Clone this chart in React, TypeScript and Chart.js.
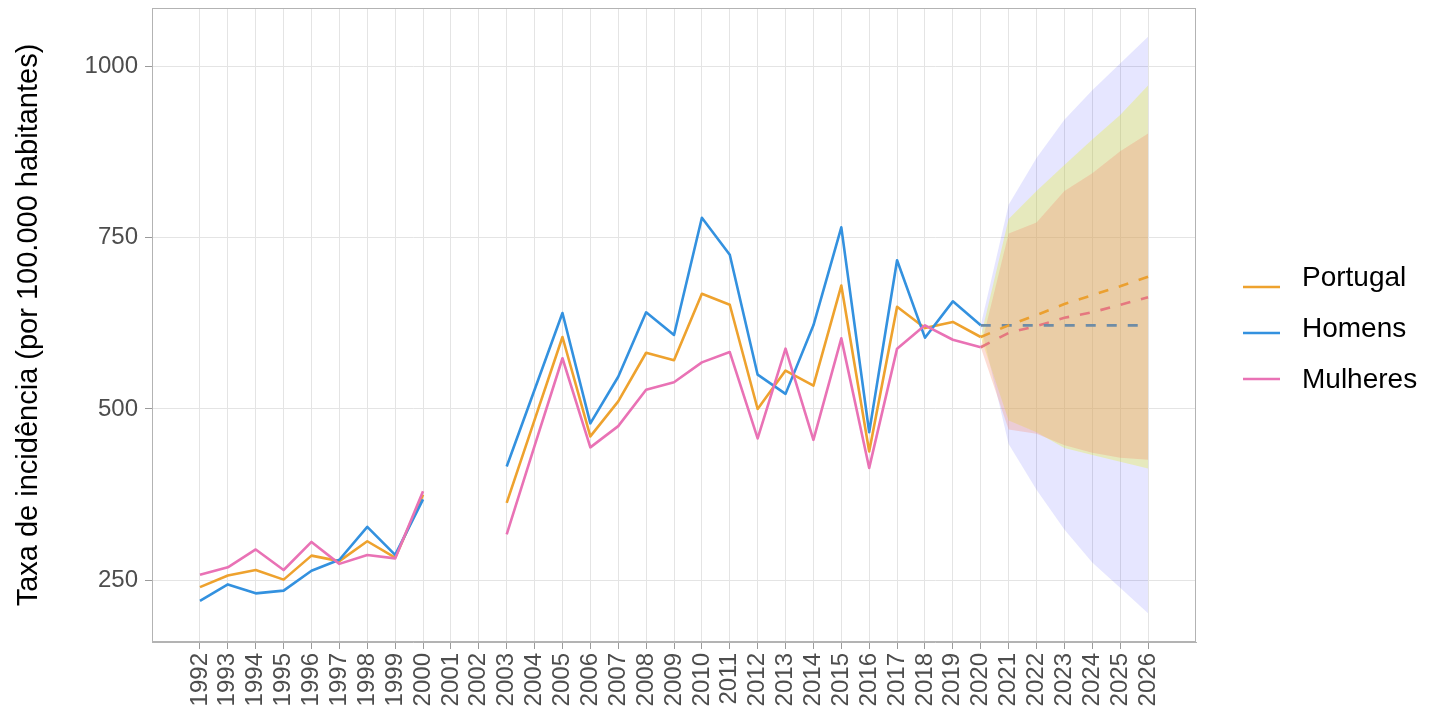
import React, { useEffect, useRef } from 'react';
import { Chart, registerables } from 'chart.js';

Chart.register(...registerables);

// ---------- data ----------
const years = [1992, 1993, 1994, 1995, 1996, 1997, 1998, 1999, 2000, 2001, 2002, 2003, 2004, 2005, 2006, 2007, 2008, 2009, 2010, 2011, 2012, 2013, 2014, 2015, 2016, 2017, 2018, 2019, 2020];
const portugal = [240, 257, 265, 251, 286, 278, 307, 283, 375, null, null, 363, 484, 605, 460, 511, 582, 571, 668, 652, 500, 556, 534, 680, 438, 649, 618, 627, 605];
const homens = [220, 244, 231, 235, 264, 280, 328, 287, 368, null, null, 416, 528, 640, 479, 547, 641, 608, 779, 725, 550, 522, 622, 765, 466, 717, 604, 657, 622];
const mulheres = [258, 269, 295, 265, 306, 274, 287, 282, 380, null, null, 317, 446, 574, 444, 475, 528, 539, 568, 583, 457, 588, 455, 603, 414, 588, 622, 601, 590];

const forecastYears = [2020, 2021, 2022, 2023, 2024, 2025, 2026];
const portugalForecast = [605, 622, 637, 653, 666, 679, 693];
const homensForecast = [622, 622, 622, 622, 622, 622, 622];
const mulheresForecast = [590, 611, 621, 633, 641, 652, 663];

const portugalLower = [605, 483, 466, 443, 433, 423, 413];
const portugalUpper = [605, 777, 818, 856, 893, 929, 972];
const homensLower = [622, 449, 382, 324, 276, 239, 202];
const homensUpper = [622, 798, 866, 922, 965, 1004, 1043];
const mulheresLower = [590, 470, 464, 447, 436, 429, 426];
const mulheresUpper = [590, 756, 772, 818, 844, 876, 902];

const tickYears = [1992, 1993, 1994, 1995, 1996, 1997, 1998, 1999, 2000, 2001, 2002, 2003, 2004, 2005, 2006, 2007, 2008, 2009, 2010, 2011, 2012, 2013, 2014, 2015, 2016, 2017, 2018, 2019, 2020, 2021, 2022, 2023, 2024, 2025, 2026];
const yTicks = [250, 500, 750, 1000];

const seriesNames = ['Portugal', 'Homens', 'Mulheres'];
const yTitle = 'Taxa de incidência (por 100.000 habitantes)';

// ---------- styles ----------
const FONT = '"Liberation Sans", Arial, sans-serif';
const lineColors = ['#EEA22E', '#3391DF', '#E972B5'];
const dashColors = ['#EBA030', '#6E8CA6', '#E5787F'];
const bandColors = ['rgba(230,245,0,0.26)', 'rgba(20,20,255,0.105)', 'rgba(246,142,115,0.30)'];
const GRID = '#E4E4E4';
const BORDER = '#B3B3B3';

const pts = (xs: number[], ys: (number | null)[]) => xs.map((x, i) => ({ x, y: ys[i] }));

const panelBorder = {
  id: 'panelBorder',
  afterDatasetsDraw(chart: any) {
    const { ctx, chartArea: a } = chart;
    ctx.save();
    ctx.strokeStyle = BORDER;
    ctx.lineWidth = 1;
    ctx.strokeRect(Math.round(a.left) + 0.5, Math.round(a.top) + 0.5, Math.round(a.right - a.left) - 1, Math.round(a.bottom - a.top) - 1);
    ctx.restore();
  },
};

const customLegend = {
  id: 'customLegend',
  afterDraw(chart: any) {
    const { ctx } = chart;
    ctx.save();
    seriesNames.forEach((name, i) => {
      const ly = 287 + i * 46;
      ctx.strokeStyle = lineColors[i];
      ctx.lineWidth = 2.6;
      ctx.beginPath();
      ctx.moveTo(1243, ly);
      ctx.lineTo(1280, ly);
      ctx.stroke();
      ctx.fillStyle = '#000000';
      ctx.font = `28px ${FONT}`;
      ctx.textAlign = 'left';
      ctx.textBaseline = 'alphabetic';
      ctx.fillText(name, 1302, 286 + i * 51);
    });
    ctx.restore();
  },
};

export default function App() {
  const ref = useRef<HTMLCanvasElement | null>(null);

  useEffect(() => {
    if (!ref.current) return;
    const lineDs = (i: number, data: (number | null)[], order: number) => ({
      label: seriesNames[i],
      data: pts(years, data),
      borderColor: lineColors[i],
      backgroundColor: lineColors[i],
      borderWidth: 2.6,
      pointRadius: 0,
      borderJoinStyle: 'round',
      fill: false,
      spanGaps: false,
      order,
    });
    const dashDs = (i: number, data: number[]) => ({
      label: seriesNames[i] + ' (projeção)',
      data: pts(forecastYears, data),
      borderColor: dashColors[i],
      borderWidth: 2.6,
      borderDash: [10, 11],
      pointRadius: 0,
      fill: false,
      order: 0.5,
    });
    const bandLower = (i: number, data: number[], order: number) => ({
      label: seriesNames[i] + ' lower',
      data: pts(forecastYears, data),
      borderWidth: 0,
      borderColor: 'rgba(0,0,0,0)',
      pointRadius: 0,
      fill: false,
      order,
    });
    const bandUpper = (i: number, data: number[], order: number, target: number) => ({
      label: seriesNames[i] + ' upper',
      data: pts(forecastYears, data),
      borderWidth: 0,
      borderColor: 'rgba(0,0,0,0)',
      backgroundColor: bandColors[i],
      pointRadius: 0,
      fill: { target },
      order,
    });

    const chart = new Chart(ref.current, {
      type: 'line',
      data: {
        datasets: [
          lineDs(0, portugal, 0),
          lineDs(1, homens, -1),
          lineDs(2, mulheres, -2),
          dashDs(0, portugalForecast),
          dashDs(1, homensForecast),
          dashDs(2, mulheresForecast),
          bandLower(1, homensLower, 3),
          bandUpper(1, homensUpper, 3, 6),
          bandLower(0, portugalLower, 2),
          bandUpper(0, portugalUpper, 2, 8),
          bandLower(2, mulheresLower, 1),
          bandUpper(2, mulheresUpper, 1, 10),
        ] as any,
      },
      options: {
        animation: false,
        responsive: false,
        devicePixelRatio: 1,
        events: [],
        layout: { padding: { top: 8, right: 233, bottom: 0, left: 0 } },
        plugins: {
          legend: { display: false },
          tooltip: { enabled: false },
          filler: { propagate: false },
        },
        scales: {
          x: {
            type: 'linear',
            min: 1990.28,
            max: 2027.72,
            afterBuildTicks: (scale: any) => {
              scale.ticks = tickYears.map((v) => ({ value: v }));
            },
            afterFit: (scale: any) => {
              scale.height = 75;
              scale.paddingLeft = 0;
              scale.paddingRight = 0;
            },
            ticks: {
              autoSkip: false,
              minRotation: 90,
              maxRotation: 90,
              padding: 4,
              color: '#4D4D4D',
              font: { size: 24, family: FONT },
              callback: (v: any) => String(v),
            },
            grid: { color: GRID, lineWidth: 1, tickLength: 7, tickColor: '#9A9A9A', drawTicks: true },
            border: { display: true, color: BORDER, width: 1 },
          },
          y: {
            type: 'linear',
            min: 160,
            max: 1085,
            afterBuildTicks: (scale: any) => {
              scale.ticks = yTicks.map((v) => ({ value: v }));
            },
            afterFit: (scale: any) => {
              scale.width = 152;
              scale.paddingTop = 0;
              scale.paddingBottom = 0;
            },
            ticks: {
              padding: 7,
              color: '#4D4D4D',
              font: { size: 24, family: FONT },
              callback: (v: any) => String(v),
            },
            grid: { color: GRID, lineWidth: 1, tickLength: 7, tickColor: '#9A9A9A', drawTicks: true },
            border: { display: true, color: BORDER, width: 1 },
            title: {
              display: true,
              text: yTitle,
              color: '#000000',
              font: { size: 29, family: FONT },
              padding: { top: 12, bottom: 0 },
            },
          },
        },
      } as any,
      plugins: [panelBorder, customLegend],
    });
    return () => chart.destroy();
  }, []);

  return (
    <div style={{ position: 'absolute', left: 0, top: 0, width: 1429, height: 717, background: '#ffffff' }}>
      <canvas ref={ref} width={1429} height={717} style={{ display: 'block', width: 1429, height: 717 }} />
    </div>
  );
}
